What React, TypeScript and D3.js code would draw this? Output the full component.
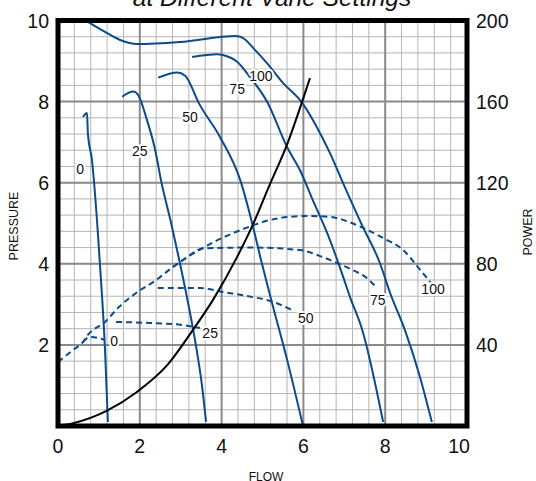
import React from 'react';
import * as d3 from 'd3';

// Pressure curves (flow, pressure) per vane setting
const pressure0: [number, number][] = [[0.61, 7.62], [0.71, 7.72], [0.73, 7.23], [0.83, 6.56], [1.03, 3.92], [1.15, 1.87], [1.22, 0.1]];
const pressure25: [number, number][] = [[1.57, 8.12], [1.84, 8.25], [1.95, 8.18], [2.18, 7.53], [2.38, 6.79], [2.52, 6.05], [2.77, 4.99], [2.97, 4.07], [3.17, 3.09], [3.37, 2.0], [3.52, 1.0], [3.62, 0.1]];
const pressure50: [number, number][] = [[2.45, 8.59], [2.92, 8.72], [3.11, 8.64], [3.45, 7.95], [3.97, 7.11], [4.46, 6.05], [4.75, 4.99], [4.95, 4.15], [5.2, 3.16], [5.61, 1.6], [5.98, 0.05]];
const pressure75: [number, number][] = [[3.28, 9.1], [3.89, 9.17], [4.03, 9.15], [4.38, 8.98], [4.69, 8.61], [5.11, 8.0], [5.6, 6.88], [5.92, 6.3], [6.23, 5.57], [6.58, 4.76], [6.89, 3.92], [7.14, 3.18], [7.43, 2.4], [7.95, 0.1]];
const pressure100: [number, number][] = [[0.68, 10.0], [1.15, 9.72], [1.52, 9.52], [1.93, 9.42], [2.98, 9.47], [4.35, 9.62], [4.52, 9.57], [4.82, 9.27], [5.11, 8.95], [5.5, 8.46], [5.97, 7.97], [6.33, 7.37], [6.65, 6.73], [6.97, 5.99], [7.43, 4.96], [7.87, 4.02], [8.12, 3.28], [8.48, 2.37], [8.85, 1.21], [9.14, 0.1]];

// Power curves (flow, power) per vane setting
const power0: [number, number][] = [[0.61, 41.4], [0.78, 43.9], [1.15, 42.4]];
const power25: [number, number][] = [[1.42, 51.3], [2.25, 50.8], [3.06, 49.8], [3.47, 48.3]];
const power50: [number, number][] = [[2.44, 68.1], [3.47, 68.1], [4.03, 66.1], [4.62, 64.1], [5.26, 61.2], [5.72, 57.2]];
const power75: [number, number][] = [[2.81, 78.4], [3.06, 81.9], [3.55, 87.6], [4.35, 88.0], [4.62, 88.1], [5.92, 86.8], [6.41, 83.8], [6.82, 80.4], [7.21, 76.9], [7.55, 73.0], [7.8, 68.1]];
const power100: [number, number][] = [[0, 31.6], [0.37, 37.5], [0.61, 41.4], [0.73, 44.9], [1.15, 51.3], [1.49, 58.7], [1.91, 65.6], [2.4, 72.0], [2.81, 78.4], [3.45, 86.8], [4.35, 95.7], [5.43, 102.6], [6.09, 103.6], [6.65, 103.1], [7.46, 97.7], [7.95, 92.7], [8.44, 86.8], [8.8, 78.4], [9.1, 71.0]];

// System resistance curve (flow, pressure)
const systemCurve: [number, number][] = [[0, 0], [0.37, 0.07], [1.2, 0.38], [1.93, 0.84], [2.67, 1.5], [3.3, 2.37], [3.79, 3.11], [4.38, 4.17], [4.74, 4.91], [5.18, 5.96], [5.6, 6.94], [5.97, 8.0], [6.16, 8.58]];

const vaneNames = ['0', '25', '50', '75', '100'];
const pressureSeries = [pressure0, pressure25, pressure50, pressure75, pressure100];
const powerSeries = [power0, power25, power50, power75, power100];
// label anchors in data units
const pressureLabelAt: [number, number][] = [[0.54, 6.34], [2.0, 6.78], [3.23, 7.62], [4.38, 8.31], [4.96, 8.63]];
const powerLabelAt: [number, number][] = [[1.37, 41.9], [3.72, 45.9], [6.06, 53.3], [7.82, 62.1], [9.17, 67.6]];

const flowTicks = [0, 2, 4, 6, 8, 10];
const pressureTicks = [2, 4, 6, 8, 10];
const powerTicks = [40, 80, 120, 160, 200];

const W = 536;
const H = 481;
const blue = '#0b4a8b';
const font = 'Liberation Sans, Arial, Helvetica, sans-serif';

export default function App() {
  const x = d3.scaleLinear().domain([0, 10]).range([58, 467]);
  const yP = d3.scaleLinear().domain([0, 10]).range([426, 20.5]);
  const yW = d3.scaleLinear().domain([0, 200]).range([426, 20.5]);

  const lineP = d3.line<[number, number]>().x(d => x(d[0])).y(d => yP(d[1])).curve(d3.curveMonotoneX);
  const lineW = d3.line<[number, number]>().x(d => x(d[0])).y(d => yW(d[1])).curve(d3.curveMonotoneX);

  const minor = d3.range(0, 10.001, 0.4);
  const major = d3.range(0, 10.001, 2);

  const halo = { paintOrder: 'stroke' as const, stroke: '#fff', strokeWidth: 4, strokeLinejoin: 'round' as const };

  return (
    <svg width={W} height={H} style={{ position: 'absolute', left: 0, top: 0, background: '#fff' }} fontFamily={font}>
      <rect width={W} height={H} fill="#fff" />
      {/* grid */}
      <g>
        {minor.map(v => (
          <g key={'m' + v}>
            <line x1={x(v)} x2={x(v)} y1={yP(0)} y2={yP(10)} stroke="#b5b5b5" strokeWidth={1} />
            <line x1={x(0)} x2={x(10)} y1={yP(v)} y2={yP(v)} stroke="#b5b5b5" strokeWidth={1} />
          </g>
        ))}
        {major.map(v => (
          <g key={'M' + v}>
            <line x1={x(v)} x2={x(v)} y1={yP(0)} y2={yP(10)} stroke="#8a8a8a" strokeWidth={2} />
            <line x1={x(0)} x2={x(10)} y1={yP(v)} y2={yP(v)} stroke="#8a8a8a" strokeWidth={2} />
          </g>
        ))}
      </g>

      {/* power curves */}
      {powerSeries.map((s, i) => (
        <path key={'w' + i} d={lineW(s) || ''} fill="none" stroke={blue} strokeWidth={2} strokeDasharray="6,4" />
      ))}

      {/* pressure curves */}
      {pressureSeries.map((s, i) => (
        <path key={'p' + i} d={lineP(s) || ''} fill="none" stroke={blue} strokeWidth={2} />
      ))}

      {/* system curve */}
      <path d={lineP(systemCurve) || ''} fill="none" stroke="#000" strokeWidth={2} />

      {/* frame */}
      <rect x={x(0)} y={yP(10)} width={x(10) - x(0)} height={yP(0) - yP(10)} fill="none" stroke="#000" strokeWidth={5} />

      {/* curve labels */}
      {vaneNames.map((n, i) => (
        <text key={'lp' + i} x={x(pressureLabelAt[i][0])} y={yP(pressureLabelAt[i][1])} fontSize={14} textAnchor="middle" dominantBaseline="central" fill="#111" style={halo}>{n}</text>
      ))}
      {vaneNames.map((n, i) => (
        <text key={'lw' + i} x={x(powerLabelAt[i][0])} y={yW(powerLabelAt[i][1])} fontSize={14} textAnchor="middle" dominantBaseline="central" fill="#111" style={halo}>{n}</text>
      ))}

      {/* axis tick labels */}
      {flowTicks.map((t, i) => (
        <text key={'fx' + t} x={x(t)} dx={i === flowTicks.length - 1 ? -8 : 0} y={453} fontSize={19.5} textAnchor="middle" fill="#111">{t}</text>
      ))}
      {pressureTicks.map(t => (
        <text key={'py' + t} x={49} y={yP(t)} dy="0.36em" fontSize={19.5} textAnchor="end" fill="#111">{t}</text>
      ))}
      {powerTicks.map(t => (
        <text key={'wy' + t} x={476} y={yW(t)} dy="0.36em" fontSize={19.5} textAnchor="start" fill="#111">{t}</text>
      ))}

      {/* axis titles */}
      <text x={266} y={481} fontSize={12} textAnchor="middle" fill="#111">FLOW</text>
      <text transform="translate(18,226) rotate(-90)" fontSize={12.5} textAnchor="middle" fill="#111">PRESSURE</text>
      <text transform="translate(532,232) rotate(-90)" fontSize={12.5} textAnchor="middle" fill="#111">POWER</text>

      {/* title (upper line is off the top) */}
      <text x={272} y={6} fontSize={24.5} fontStyle="italic" textAnchor="middle" fill="#111">at Different Vane Settings</text>
    </svg>
  );
}
